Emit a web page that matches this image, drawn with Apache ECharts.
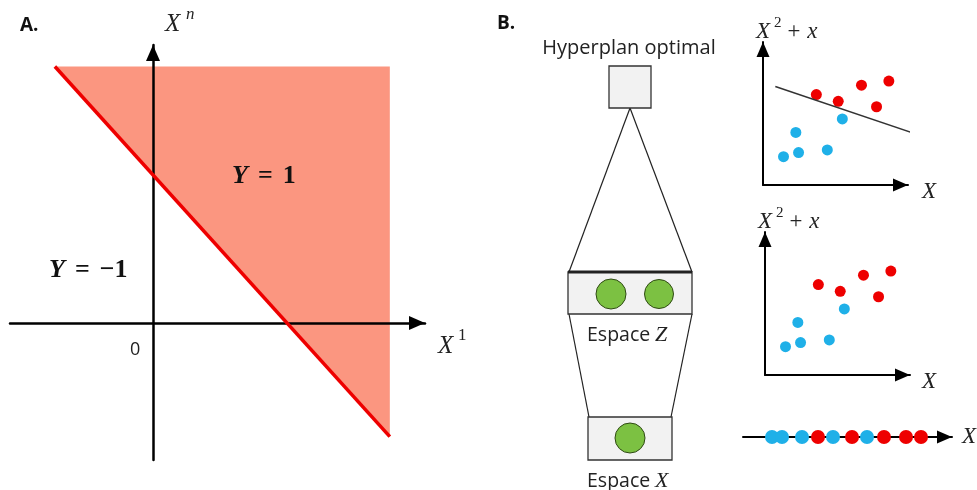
<!DOCTYPE html>
<html>
<head>
<meta charset="utf-8">
<script src="https://cdn.jsdelivr.net/npm/echarts@6/dist/echarts.min.js"></script>
<style>
html,body{margin:0;padding:0;background:#fff;}
#main{width:977px;height:490px;}
</style>
</head>
<body>
<div id="main"></div>
<script>
// ---------- Panel A data ----------
var boundaryX = [-2.93, 7.07];            // X^1 at the ends of the separating line
var boundaryY = [6.93, -3.07];            // X^n = 4 - X^1
var regionX = [-2.93, 7.07, 7.07];        // Y = 1 half-plane (clipped) vertices
var regionY = [6.93, 6.93, -3.07];

// ---------- Panel B scatter data (X, X^2 + x) ----------
var redX = [3.9, 5.5, 7.2, 9.2, 8.3];
var redY = [6.7, 6.2, 7.4, 7.7, 5.8];
var blueX = [5.8, 2.4, 2.6, 1.5, 4.7];
var blueY = [4.9, 3.9, 2.4, 2.1, 2.6];
var hyperX = [0.9, 11.4];
var hyperY = [7.3, 3.7];

// ---------- 1-D line data ----------
var lineBlueX = [1.45, 1.95, 2.95, 4.5, 6.2];
var lineRedX = [3.75, 5.45, 7.05, 8.15, 8.9];

function zip(a, b) { return a.map(function (v, i) { return [v, b[i]]; }); }

var RED = '#ee0000', BLUE = '#1fb0e8', SALMON = '#fb9680', GREEN = '#7cc142';
var serif = '"Liberation Serif","DejaVu Serif",serif';
var sans = '"Open Sans","Liberation Sans",sans-serif';

function axisLineStyle(w, sz) {
  return { show: true, onZero: true, symbol: ['none', 'triangle'], symbolSize: sz, symbolOffset: [0, -sz[1] / 2],
           lineStyle: { color: '#000', width: w } };
}
function mkAxis(gi, min, max, w, sz, z) {
  return { type: 'value', gridIndex: gi, min: min, max: max, z: z || 0,
           axisLine: axisLineStyle(w, sz), axisTick: { show: false },
           axisLabel: { show: false }, splitLine: { show: false } };
}

var chart = echarts.init(document.getElementById('main'));

var grids = [
  { left: 10, top: 45, width: 415, height: 415 },      // A
  { left: 763, top: 42, width: 145, height: 143 },     // B top scatter
  { left: 765, top: 232, width: 145, height: 143 },    // B middle scatter
  { left: 743, top: 400, width: 209, height: 37 }      // B 1-D line
];

var xAxes = [
  mkAxis(0, -4.27, 8.12, 2.5, [14, 16], 5),
  mkAxis(1, 0, 10.6, 2, [13, 15]),
  mkAxis(2, 0, 10.6, 2, [13, 15]),
  mkAxis(3, 0, 10.45, 2, [13, 15])
];
var yAxes = [
  mkAxis(0, -3.70, 7.51, 2.5, [14, 16], 5),
  mkAxis(1, 0, 10.6, 2, [13, 15]),
  mkAxis(2, 0, 10.6, 2, [13, 15]),
  { type: 'value', gridIndex: 3, min: 0, max: 1, show: false }
];

var series = [
  {
    type: 'custom', xAxisIndex: 0, yAxisIndex: 0, z: 1, silent: true,
    data: [[regionX[0], regionY[0]]],
    renderItem: function (params, api) {
      var pts = regionX.map(function (x, i) { return api.coord([x, regionY[i]]); });
      return { type: 'polygon', shape: { points: pts }, style: { fill: SALMON } };
    }
  },
  {
    type: 'line', xAxisIndex: 0, yAxisIndex: 0, z: 6, symbol: 'none', silent: true,
    data: zip(boundaryX, boundaryY), lineStyle: { color: RED, width: 3.5 }
  },
  { type: 'line', xAxisIndex: 1, yAxisIndex: 1, symbol: 'none', clip: false, silent: true,
    data: zip(hyperX, hyperY), lineStyle: { color: '#333', width: 1.5 } },
  { type: 'scatter', xAxisIndex: 1, yAxisIndex: 1, symbolSize: 11, itemStyle: { color: RED, opacity: 1 }, data: zip(redX, redY) },
  { type: 'scatter', xAxisIndex: 1, yAxisIndex: 1, symbolSize: 11, itemStyle: { color: BLUE, opacity: 1 }, data: zip(blueX, blueY) },
  { type: 'scatter', xAxisIndex: 2, yAxisIndex: 2, symbolSize: 11, itemStyle: { color: RED, opacity: 1 }, data: zip(redX, redY) },
  { type: 'scatter', xAxisIndex: 2, yAxisIndex: 2, symbolSize: 11, itemStyle: { color: BLUE, opacity: 1 }, data: zip(blueX, blueY) },
  { type: 'scatter', xAxisIndex: 3, yAxisIndex: 3, symbolSize: 14, z: 5, itemStyle: { color: BLUE, opacity: 1 },
    data: lineBlueX.map(function (x) { return [x, 0]; }) },
  { type: 'scatter', xAxisIndex: 3, yAxisIndex: 3, symbolSize: 14, z: 5, itemStyle: { color: RED, opacity: 1 },
    data: lineRedX.map(function (x) { return [x, 0]; }) }
];

function txt(x, y, text, font, opt) {
  opt = opt || {};
  return { type: 'text', x: x, y: y, z: 20, silent: true,
    style: { text: text, font: font, fill: opt.fill || '#222', align: opt.align || 'left', verticalAlign: opt.va || 'middle' } };
}
function rich(x, y, text, richStyles, align) {
  return { type: 'text', x: x, y: y, z: 20, silent: true,
    style: { text: text, rich: richStyles, align: align || 'left', verticalAlign: 'middle', fill: '#111' } };
}
function line(x1, y1, x2, y2, w) {
  return { type: 'line', z: 10, silent: true, shape: { x1: x1, y1: y1, x2: x2, y2: y2 }, style: { stroke: '#222', lineWidth: w || 1.2 } };
}
function rect(x, y, w, h) {
  return { type: 'rect', z: 10, silent: true, shape: { x: x, y: y, width: w, height: h }, style: { fill: '#f2f2f2', stroke: '#333', lineWidth: 1.3 } };
}
function circ(cx, cy, r) {
  return { type: 'circle', z: 11, silent: true, shape: { cx: cx, cy: cy, r: r }, style: { fill: GREEN, stroke: '#2f4a14', lineWidth: 1 } };
}

var yRich = {
  y: { font: 'italic bold 26px ' + serif, fill: '#111' },
  e: { font: 'bold 26px ' + serif, fill: '#111', padding: [0, 10, 0, 10] },
  n: { font: 'bold 26px ' + serif, fill: '#111' }
};

var graphics = [
  txt(20, 26, 'A.', 'bold 19px ' + sans, { fill: '#111' }),
  txt(497, 24, 'B.', 'bold 19px ' + sans, { fill: '#111' }),
  // panel A labels
  txt(165, 24, 'X', 'italic 25px ' + serif),
  txt(186, 15, 'n', 'italic 17px ' + serif),
  txt(438, 346, 'X', 'italic 25px ' + serif),
  txt(458, 336, '1', '17px ' + serif),
  txt(130, 350, '0', '18px ' + sans, { fill: '#222' }),
  rich(232, 176, '{y|Y}{e|=}{n|1}', yRich),
  rich(49, 270, '{y|Y}{e|=}{n|−1}', yRich),
  // panel B diagram
  txt(629, 48, 'Hyperplan optimal', '20px ' + sans, { align: 'center' }),
  line(630, 108, 569, 272), line(630, 108, 692, 272),
  line(569, 314, 589, 417), line(692, 314, 671, 417),
  rect(609, 66, 42, 42),
  rect(568, 272, 124, 42),
  line(568, 272, 692, 272, 2.8),
  circ(611, 294, 15), circ(659, 294, 14.5),
  rect(588, 417, 84, 43),
  circ(630, 438, 15),
  txt(587, 335, 'Espace', '19.5px ' + sans),
  txt(655, 335, 'Z', 'italic 22px ' + serif),
  txt(587, 481, 'Espace', '19.5px ' + sans),
  txt(655, 481, 'X', 'italic 22px ' + serif),
  // scatter labels
  txt(756, 32, 'X', 'italic 23px ' + serif),
  txt(774, 23, '2', '15px ' + serif),
  txt(786, 32, '+ x', 'italic 23px ' + serif),
  txt(922, 192, 'X', 'italic 23px ' + serif),
  txt(758, 222, 'X', 'italic 23px ' + serif),
  txt(776, 213, '2', '15px ' + serif),
  txt(788, 222, '+ x', 'italic 23px ' + serif),
  txt(922, 382, 'X', 'italic 23px ' + serif),
  txt(962, 437, 'X', 'italic 23px ' + serif)
];

chart.setOption({
  animation: false,
  backgroundColor: '#fff',
  grid: grids,
  xAxis: xAxes,
  yAxis: yAxes,
  series: series,
  graphic: graphics
});
</script>
</body>
</html>
